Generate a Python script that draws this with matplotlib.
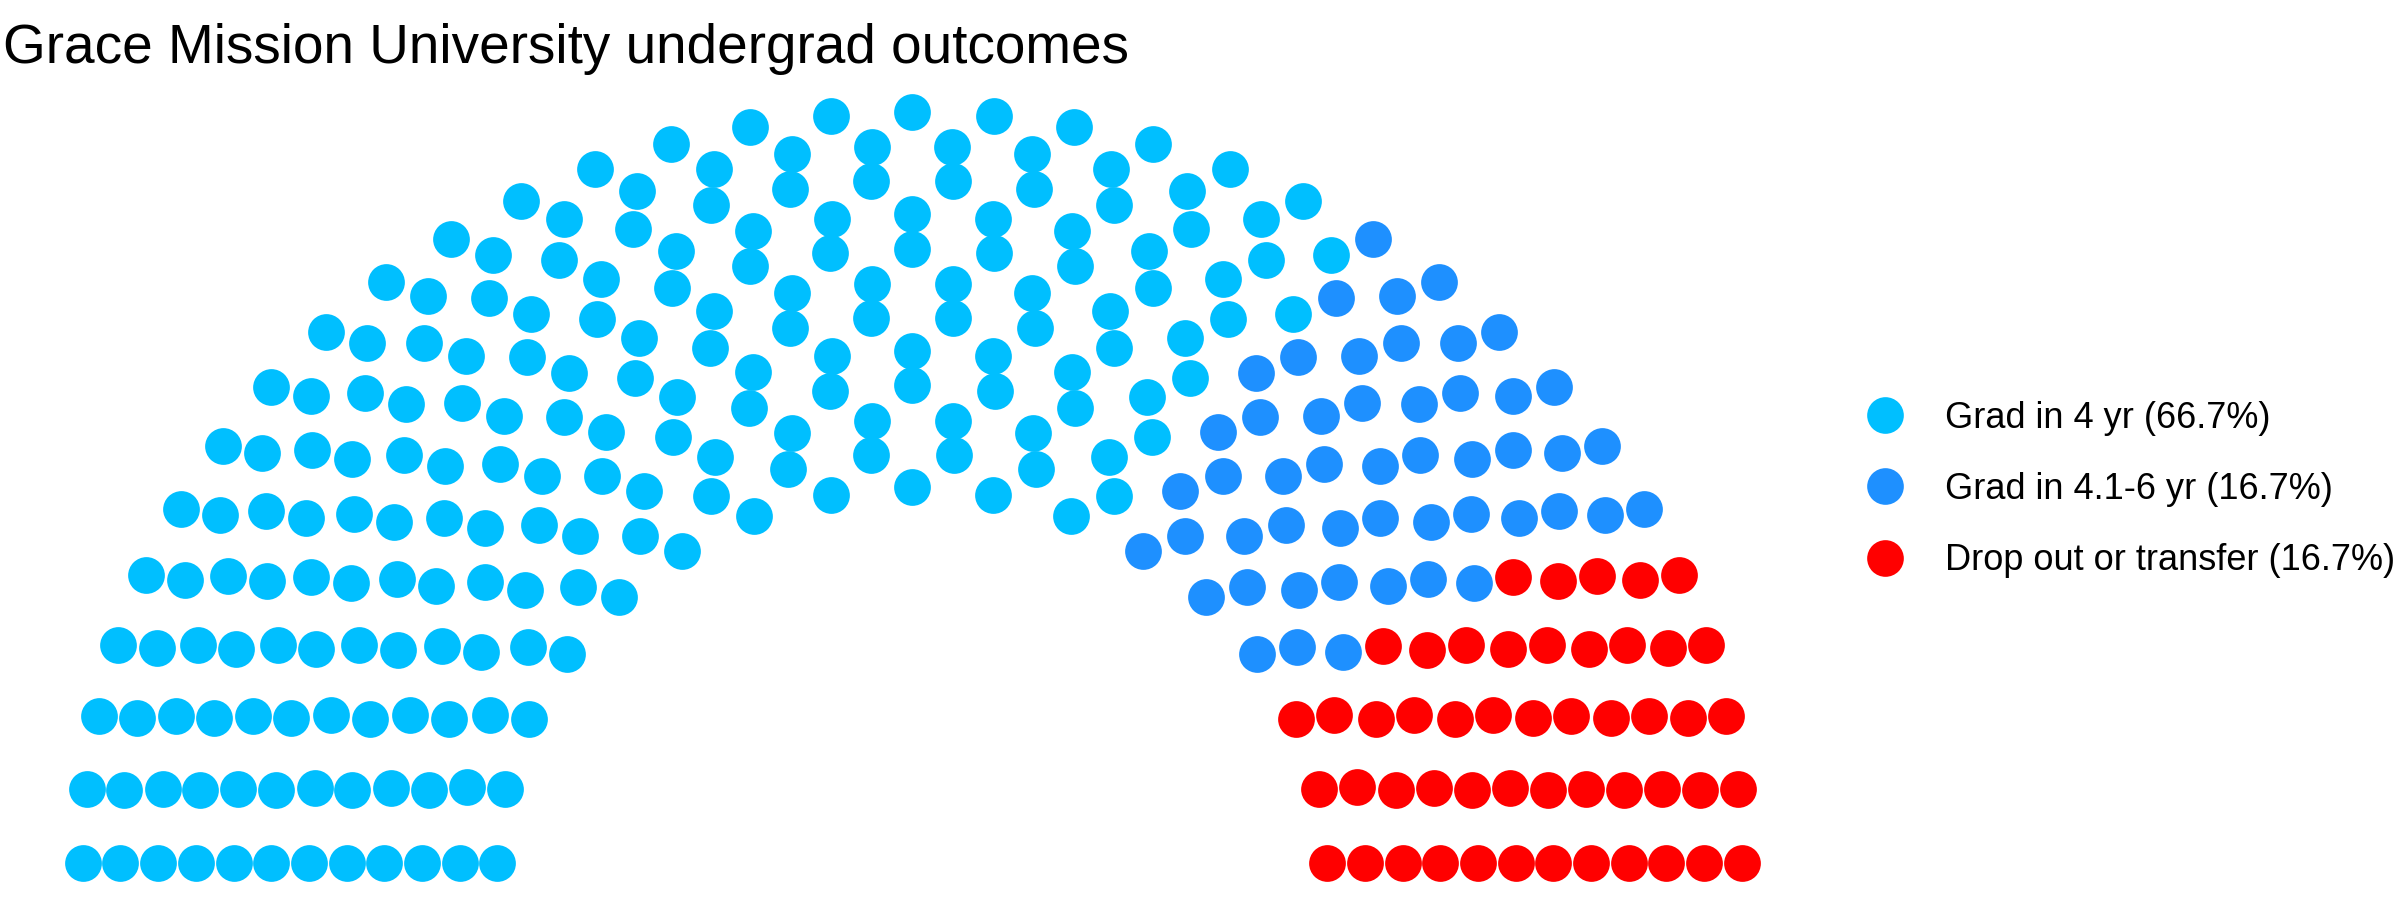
import numpy as np
import matplotlib
matplotlib.use("Agg")
import matplotlib.pyplot as plt
from matplotlib.lines import Line2D

# Data
parties = ["Grad in 4 yr", "Grad in 4.1-6 yr", "Drop out or transfer"]
seats = [200, 50, 50]
colors = ["#00BFFF", "#1E90FF", "#FF0000"]
n_rows = 12

plt.rcParams["font.family"] = ["Liberation Sans", "DejaVu Sans"]


def semicircle(parl_rows, total):
    # same layout rule as ggparliament's semicircle
    radii = np.linspace(1, 2, parl_rows)
    xs, ys, rows, thetas = [], [], [], []
    left = total
    for i in range(parl_rows):
        if i < parl_rows - 1:
            n = int(round(left * radii[i] / radii[i:].sum()))
        else:
            n = left
        left -= n
        th = np.linspace(0, np.pi, n)
        xs.append(radii[i] * np.cos(th))
        ys.append(radii[i] * np.sin(th))
        rows.append(np.full(n, i))
        thetas.append(th)
    xs, ys = np.concatenate(xs), np.concatenate(ys)
    rows, thetas = np.concatenate(rows), np.concatenate(thetas)
    order = np.lexsort((-rows, -thetas))
    return xs[order], ys[order]


x, y = semicircle(n_rows, sum(seats))
party_idx = np.repeat(np.arange(len(parties)), seats)
total = sum(seats)
labels = [f"{p} ({100 * s / total:.1f}%)" for p, s in zip(parties, seats)]

fig = plt.figure(figsize=(24, 9), dpi=100)
ax = fig.add_axes([0, 0, 1, 1])
for k, c in enumerate(colors):
    m = party_idx == k
    ax.scatter(x[m], y[m], s=700, color=c, linewidths=0, zorder=3)

# place the hemicycle: centre at (912, 863) px, 415 px/unit across, 375 px/unit up
ax.set_xlim(-912.3 / 414.8, (2400 - 912.3) / 414.8)
ax.set_ylim(-37.3 / 375.3, 862.7 / 375.3)
ax.axis("off")

fig.text(3 / 2400, (900 - 63) / 900, "Grace Mission University undergrad outcomes",
         fontsize=39.5, va="baseline", ha="left")

handles = [Line2D([], [], marker="o", linestyle="none", markersize=26.4,
                  markerfacecolor=c, markeredgewidth=0) for c in colors]
fig.legend(handles, labels, loc="upper left",
           bbox_to_anchor=(1867 / 2400, (900 - 401) / 900),
           bbox_transform=fig.transFigure, frameon=False, fontsize=26,
           handlelength=1.0, handletextpad=1.16, labelspacing=1.0,
           borderpad=0, borderaxespad=0)

fig.savefig("out.png", dpi=100)
